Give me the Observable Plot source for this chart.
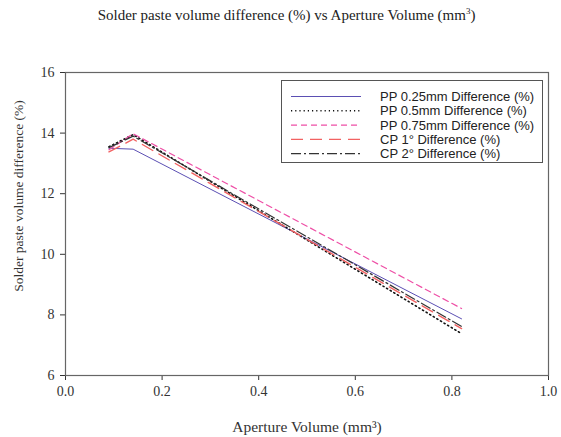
<!DOCTYPE html>
<html>
<head>
<meta charset="utf-8">
<script src="https://cdn.jsdelivr.net/npm/d3@7"></script>
<script src="https://cdn.jsdelivr.net/npm/@observablehq/plot@0.6"></script>
<style>
  body { margin: 0; background: #fff; }
  #wrap { position: relative; width: 561px; height: 437px; }
  #title { position: absolute; top: 6px; left: 0; width: 561px; text-align: center; padding-left: 12px; box-sizing: border-box;
           font-family: "Liberation Serif", serif; font-size: 15px; color: #222; }
  #legend { position: absolute; left: 281px; top: 80px; }
  #ylab { position: absolute; left: 0; top: 0; }
</style>
</head>
<body>
<div id="wrap">
  <div id="title">Solder paste volume difference (%) vs Aperture Volume (mm<sup style="font-size:9px">3</sup>)</div>
</div>
<script>
const apertureVolume = [0.09, 0.14, 0.82];
const seriesNames = ["PP 0.25mm Difference (%)", "PP 0.5mm Difference (%)", "PP 0.75mm Difference (%)", "CP 1° Difference (%)", "CP 2° Difference (%)"];
const pp025 = [13.50, 13.47, 7.87];
const pp05  = [13.55, 13.95, 7.38];
const pp075 = [13.45, 13.98, 8.21];
const cp1   = [13.38, 13.80, 7.55];
const cp2   = [13.52, 13.90, 7.62];
const xTicks = [0, 0.2, 0.4, 0.6, 0.8, 1.0];
const yTicks = [6, 8, 10, 12, 14, 16];
const xLabel = "Aperture Volume (mm³)";
const yLabel = "Solder paste volume difference (%)";

const styles = [
  {stroke: "#5b4fb3", width: 1, dash: null},
  {stroke: "#111111", width: 1.6, dash: "1.2,3"},
  {stroke: "#ee4fa6", width: 1.2, dash: "6,4"},
  {stroke: "#f26262", width: 1.4, dash: "12,7"},
  {stroke: "#333333", width: 1.2, dash: "10,3,2,3"}
];
const values = [pp025, pp05, pp075, cp1, cp2];

const marks = [
  Plot.frame({stroke: "#666", strokeWidth: 1.2})
];
values.forEach((vals, i) => {
  const data = apertureVolume.map((x, j) => ({x, y: vals[j]}));
  marks.push(Plot.line(data, {x: "x", y: "y", stroke: styles[i].stroke, strokeWidth: styles[i].width, strokeDasharray: styles[i].dash}));
});

const chart = Plot.plot({
  width: 561, height: 437,
  marginTop: 72, marginBottom: 62, marginLeft: 65, marginRight: 13,
  style: {fontFamily: "Liberation Serif, serif", fontSize: "14px", color: "#333", background: "white"},
  x: {domain: [0, 1], ticks: xTicks, tickFormat: d3.format(".1f"), tickSize: 5, tickPadding: 6,
      label: null},
  y: {domain: [6, 16], ticks: yTicks, tickSize: 5, tickPadding: 6, label: null},
  marks
});
document.getElementById("wrap").appendChild(chart);

// axis labels
const lab = d3.create("svg").attr("id", "ylab").attr("width", 561).attr("height", 437).style("pointer-events", "none");
lab.append("text").attr("transform", "translate(23,196) rotate(-90)").attr("text-anchor", "middle")
   .attr("font-family", "Liberation Serif, serif").attr("font-size", 13.5).attr("fill", "#333").text(yLabel);
lab.append("text").attr("x", 307).attr("y", 432).attr("text-anchor", "middle")
   .attr("font-family", "Liberation Serif, serif").attr("font-size", 15.5).attr("fill", "#333").text(xLabel);
document.getElementById("wrap").appendChild(lab.node());

// legend
const lw = 262, lh = 83;
const leg = d3.create("svg").attr("id", "legend").attr("width", lw).attr("height", lh);
leg.append("rect").attr("x", 0.5).attr("y", 0.5).attr("width", lw - 1).attr("height", lh - 1)
   .attr("fill", "white").attr("stroke", "#555").attr("stroke-width", 1);
seriesNames.forEach((name, i) => {
  const yy = 16.5 + i * 14.3;
  leg.append("line").attr("x1", 10).attr("x2", 80).attr("y1", yy).attr("y2", yy)
     .attr("stroke", styles[i].stroke).attr("stroke-width", styles[i].width)
     .attr("stroke-dasharray", styles[i].dash);
  leg.append("text").attr("x", 99).attr("y", yy + 4.5).text(name)
     .attr("font-family", "Liberation Sans, Arial, sans-serif").attr("font-size", 13).attr("fill", "#222");
});
document.getElementById("wrap").appendChild(leg.node());
</script>
</body>
</html>
